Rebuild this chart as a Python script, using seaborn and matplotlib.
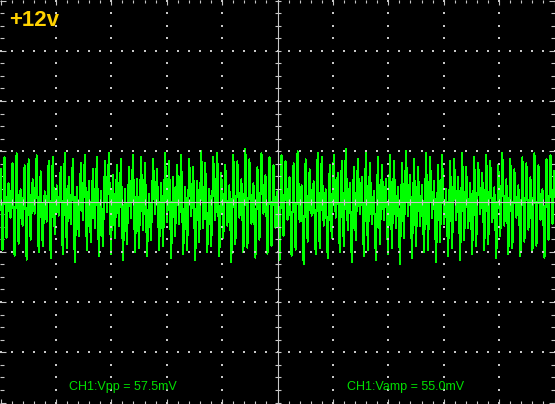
import numpy as np
import pandas as pd
import matplotlib
matplotlib.use("Agg")
import matplotlib.pyplot as plt
import seaborn as sns

# ---- data (mV), read/estimated from the reference trace ----
peak_highs_mv = [
    16, 22, 9, 19, 24, 6, 18, 21, 11, 23, 15, 5, 20, 22, 8, 17, 24, 12, 21, 7,
    19, 23, 10, 16, 22, 5, 20, 24, 13, 18, 21, 6, 17, 23, 11, 22, 19, 4, 21, 16,
    9, 24, 20, 12, 18, 23, 7, 21, 17, 10, 25, 19, 6, 22, 24, 14, 18, 8, 23, 20,
    11, 26, 21, 9, 17, 24, 13, 22, 18, 5, 23, 20, 12, 19, 25, 8, 21, 16, 10, 24,
    22, 6, 18, 23, 14, 20, 26, 9, 17, 21, 12, 24, 19, 5, 22, 18, 11, 23, 20, 7,
    19, 25, 13, 21, 17, 8, 24, 22, 10, 18, 23, 6, 20, 21, 12, 24, 17, 9, 22, 19,
    14, 23, 20, 7, 18, 24, 11, 21, 16,
    8, 22, 19, 12, 24, 18, 6, 21, 23, 15,
]
peak_lows_mv = [
    -24, -18, -8, -27, -21, -12, -29, -19, -6, -25, -22, -10, -28, -16, -7, -26, -23, -11, -30, -17,
    -9, -24, -20, -13, -27, -22, -5, -26, -18, -12, -29, -21, -8, -25, -23, -14, -27, -19, -6, -24,
    -22, -10, -28, -17, -11, -26, -24, -7, -29, -20, -13, -25, -22, -9, -27, -18, -12, -30, -21, -8,
    -25, -23, -11, -28, -19, -6, -26, -22, -13, -29, -17, -9, -27, -24, -10, -31, -20, -7, -26, -23,
    -12, -28, -18, -8, -25, -22, -14, -30, -19, -6, -27, -24, -11, -29, -21, -9, -26, -23, -13, -31,
    -18, -7, -28, -22, -12, -25, -24, -8, -30, -20, -11, -27, -23, -9, -29, -19, -13, -26, -22, -6,
    -24, -21, -10, -28, -17, -12, -26, -23, -8, -27, -20,
    -14, -25, -22, -9, -28, -19, -11,
]
channel_label = "+12v"
vpp_text = "CH1:Vpp = 57.5mV"
vamp_text = "CH1:Vamp = 55.0mV"
mv_per_div = 25.0
n_div_x, n_div_y = 10, 8

# interleave highs and lows into the sample sequence
samples = []
for i, h in enumerate(peak_highs_mv):
    samples.append(h)
    if i < len(peak_lows_mv):
        samples.append(peak_lows_mv[i])
samples = np.array(samples, dtype=float)
t_div = np.linspace(0, n_div_x, len(samples))
df = pd.DataFrame({"t": t_div, "v": samples / mv_per_div})

# ---- figure ----
W, H = 555, 404
fig = plt.figure(figsize=(W / 100, H / 100), dpi=100, facecolor="black")
ax = fig.add_axes([0, 0, 1, 1], facecolor="black")

sns.lineplot(data=df, x="t", y="v", ax=ax, color="#00ff00", linewidth=0.75,
             estimator=None, sort=False, zorder=2, antialiased=False)

grid_c = "#c8c8c8"
ax.set_xlim(-0.5 / 55.4, n_div_x + 0.5 / 55.4)
ax.set_ylim(-n_div_y / 2 - 1.5 / 50.25, n_div_y / 2 + 0.5 / 50.25)

# dotted major grid
minor_x = np.arange(0, n_div_x + 0.001, 0.2)
minor_y = np.arange(-n_div_y / 2, n_div_y / 2 + 0.001, 0.25)
for xv in range(1, n_div_x):
    if xv == n_div_x // 2:
        continue
    ax.scatter(np.full_like(minor_y, xv), minor_y, s=0.8, marker="s",
               color=grid_c, linewidths=0, zorder=3)
for yv in range(-n_div_y // 2 + 1, n_div_y // 2):
    if yv == 0:
        continue
    ax.scatter(minor_x, np.full_like(minor_x, yv), s=0.8, marker="s",
               color=grid_c, linewidths=0, zorder=3)

# center cross with ticks
ax.axvline(n_div_x / 2, color=grid_c, lw=0.8, zorder=4)
ax.axhline(0, color=grid_c, lw=0.8, zorder=4)
ax.plot(np.full_like(minor_y, n_div_x / 2), minor_y, ls="none", marker="_",
        markersize=5, mew=0.8, color=grid_c, zorder=4)
ax.plot(minor_x, np.zeros_like(minor_x), ls="none", marker="|",
        markersize=5, mew=0.8, color=grid_c, zorder=4)

# edge ticks
for s in ax.spines.values():
    s.set_visible(False)
ax.set_xticks(np.arange(0, n_div_x + 1, 1))
ax.set_xticks(minor_x, minor=True)
ax.set_yticks(np.arange(-n_div_y // 2, n_div_y // 2 + 1, 1))
ax.set_yticks(minor_y, minor=True)
ax.tick_params(which="both", direction="in", top=True, right=True, bottom=True, left=True,
               labelbottom=False, labelleft=False, color=grid_c, width=0.8)
ax.tick_params(axis="x", which="minor", length=2.2)
ax.tick_params(axis="x", which="major", length=3.6)
ax.tick_params(axis="y", which="minor", length=3.2)
ax.tick_params(axis="y", which="major", length=4.3)
ax.set_xlabel("")
ax.set_ylabel("")
if ax.get_legend():
    ax.get_legend().remove()

# texts
fig.text(9 / W, 1 - 26 / H, channel_label, color="#ffd200", fontsize=16,
         fontweight="bold", family="Liberation Sans", ha="left", va="baseline")
fig.text(69 / W, 1 - 390 / H, vpp_text, color="#00e000", fontsize=9,
         family="Liberation Sans", ha="left", va="baseline")
fig.text(347 / W, 1 - 390 / H, vamp_text, color="#00e000", fontsize=9,
         family="Liberation Sans", ha="left", va="baseline")

fig.savefig("out.png", dpi=100, facecolor="black")
